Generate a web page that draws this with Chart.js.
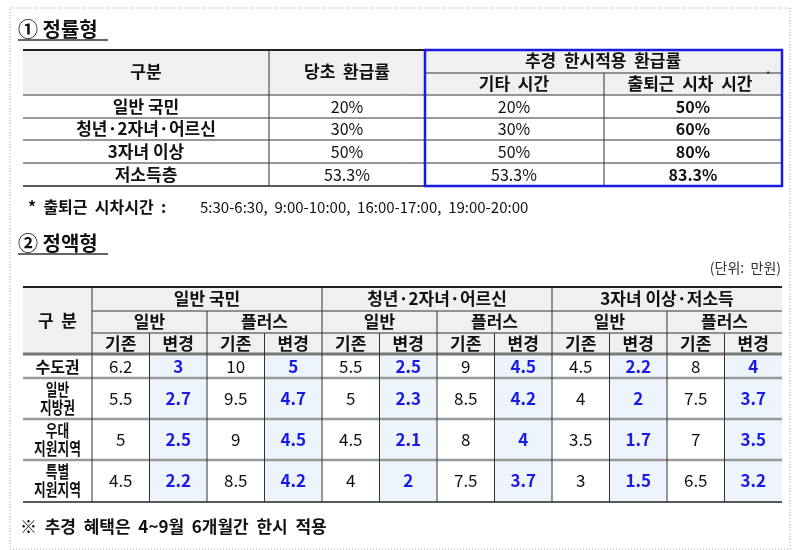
<!DOCTYPE html>
<html><head><meta charset="utf-8">
<script src="https://cdn.jsdelivr.net/npm/chart.js@4"></script>
<style>html,body{margin:0;padding:0;background:#fff}canvas{display:block}</style>
</head><body>
<canvas id="c" width="800" height="550"></canvas>
<script>
// table 1 : 정률형
const t1Rows = ['일반 국민', '청년·2자녀·어르신', '3자녀 이상', '저소득층'];
const t1Base = ['20%', '30%', '50%', '53.3%'];
const t1Other = ['20%', '30%', '50%', '53.3%'];
const t1Peak = ['50%', '60%', '80%', '83.3%'];

// table 2 : 정액형
const regions = [['수도권'], ['일반', '지방권'], ['우대', '지원지역'], ['특별', '지원지역']];
const groups = ['일반 국민', '청년·2자녀·어르신', '3자녀 이상·저소득'];
const subGroups = ['일반', '플러스'];
const colLabels = ['기존', '변경'];
const capital = [6.2, 3, 10, 5, 5.5, 2.5, 9, 4.5, 4.5, 2.2, 8, 4];
const localGeneral = [5.5, 2.7, 9.5, 4.7, 5, 2.3, 8.5, 4.2, 4, 2, 7.5, 3.7];
const localPreferred = [5, 2.5, 9, 4.5, 4.5, 2.1, 8, 4, 3.5, 1.7, 7, 3.5];
const localSpecial = [4.5, 2.2, 8.5, 4.2, 4, 2, 7.5, 3.7, 3, 1.5, 6.5, 3.2];
const t2Values = [capital, localGeneral, localPreferred, localSpecial];

const FONT = '"Noto Sans CJK KR", "Noto Sans", sans-serif';
const BLUE = '#1a1ae6';

const tablePlugin = {
  id: 'table',
  afterDraw(chart) {
    const ctx = chart.ctx;
    const xs = chart.scales.x, ys = chart.scales.y;
    const X = v => xs.getPixelForValue(v), Y = v => ys.getPixelForValue(v);
    const rect = (x0, y0, x1, y1, fill) => { ctx.fillStyle = fill; ctx.fillRect(X(x0), Y(y0), X(x1) - X(x0), Y(y1) - Y(y0)); };
    const line = (x0, y0, x1, y1, col, w) => {
      ctx.strokeStyle = col; ctx.lineWidth = w; ctx.beginPath();
      ctx.moveTo(X(x0), Y(y0)); ctx.lineTo(X(x1), Y(y1)); ctx.stroke();
    };
    const text = (s, x, y, size, opts = {}) => {
      ctx.font = (opts.bold ? 'bold ' : '') + size + 'px ' + FONT;
      ctx.fillStyle = opts.color || '#111';
      ctx.textAlign = opts.align || 'center';
      ctx.textBaseline = 'middle';
      ctx.fillText(s, X(x), Y(y));
    };
    ctx.save();
    // outer dotted frame
    ctx.setLineDash([1, 2]);
    ctx.strokeStyle = '#aaa'; ctx.lineWidth = 1;
    ctx.strokeRect(X(10), Y(8), X(790) - X(10), Y(549) - Y(8));
    ctx.setLineDash([]);

    // ---- table 1
    text('① 정률형', 18, 29, 20, { bold: true, align: 'left' });
    line(18, 40, 108, 40, '#333', 1.5);
    const c1 = [23, 269, 425, 604, 782];
    const r1 = [50, 95, 118, 140, 163, 186];
    rect(c1[0], 50, c1[4], 95, '#f0f0f0');
    for (let i = 1; i < r1.length - 1; i++) line(c1[0], r1[i], c1[4], r1[i], '#333', 1);
    line(c1[0], 50, c1[4], 50, '#222', 2);
    line(c1[0], 186, c1[4], 186, '#222', 1.5);
    line(c1[2], 73, c1[4], 73, '#333', 1);
    line(c1[1], 50, c1[1], 186, '#333', 1);
    line(c1[3], 73, c1[3], 186, '#333', 1);
    text('구분', 146, 72, 17, { bold: true });
    text('당초  환급률', 347, 72, 17, { bold: true });
    text('추경  한시적용  환급률', 603, 61, 17, { bold: true });
    text('기타  시간', 514, 84, 17, { bold: true });
    text('출퇴근  시차  시간', 690, 84, 17, { bold: true });
    text('*', 766, 75, 9, { align: 'left' });
    t1Rows.forEach((r, i) => {
      const cy = (r1[i + 1] + r1[i + 2]) / 2;
      text(r, 146, cy, 17, { bold: true });
      text(t1Base[i], 347, cy, 16);
      text(t1Other[i], 514, cy, 16);
      text(t1Peak[i], 693, cy, 16, { bold: true });
    });
    ctx.strokeStyle = BLUE; ctx.lineWidth = 2.5;
    ctx.strokeRect(X(425), Y(50), X(782) - X(425), Y(186) - Y(50));

    text('*  출퇴근  시차시간  :', 28, 207, 16, { bold: true, align: 'left' });
    text('5:30-6:30,  9:00-10:00,  16:00-17:00,  19:00-20:00', 200, 207, 15, { align: 'left' });

    // ---- table 2
    text('② 정액형', 18, 243, 20, { bold: true, align: 'left' });
    line(18, 254, 108, 254, '#333', 1.5);
    text('(단위:  만원)', 781, 268, 14, { align: 'right', color: '#333' });
    const left = 23, c0 = 92, right = 782, cw = (right - c0) / 12;
    const hr = [287, 311, 333, 355];
    const dr = [355, 378, 419, 460, 502];
    rect(left, hr[0], right, hr[3], '#f0f0f0');
    for (let r = 0; r < 4; r++) for (let j = 1; j < 12; j += 2)
      rect(c0 + j * cw, dr[r] + 1, c0 + (j + 1) * cw, dr[r + 1] - 1, '#eef4fc');
    line(left, hr[0], right, hr[0], '#222', 2);
    line(c0, hr[1], right, hr[1], '#333', 1);
    line(c0, hr[2], right, hr[2], '#333', 1);
    line(left, hr[3] - 1, right, hr[3] - 1, '#777', 3);
    for (let r = 1; r < 4; r++) line(left, dr[r], right, dr[r], '#999', 2.5);
    line(left, dr[4], right, dr[4], '#222', 1.5);
    line(c0, hr[0], c0, dr[4], '#333', 1);
    for (let j = 1; j < 12; j++) {
      const top = j % 4 === 0 ? hr[0] : j % 2 === 0 ? hr[1] : hr[2];
      line(c0 + j * cw, top, c0 + j * cw, dr[4], '#333', 1);
    }
    text('구  분', (left + c0) / 2, 321, 17, { bold: true });
    groups.forEach((g, gi) => text(g, c0 + (gi * 4 + 2) * cw, 299, 17, { bold: true }));
    for (let s = 0; s < 6; s++) text(subGroups[s % 2], c0 + (s * 2 + 1) * cw, 322, 17, { bold: true });
    for (let k = 0; k < 12; k++) text(colLabels[k % 2], c0 + (k + 0.5) * cw, 344, 17, { bold: true });
    regions.forEach((lab, r) => {
      const cy = (dr[r] + dr[r + 1]) / 2;
      if (lab.length === 1) text(lab[0], (left + c0) / 2, cy, 16, { bold: true });
      else {
        ctx.save();
        ctx.translate(X((left + c0) / 2), 0);
        ctx.scale(0.75, 1);
        ctx.font = 'bold 17px ' + FONT; ctx.fillStyle = '#111';
        ctx.textAlign = 'center'; ctx.textBaseline = 'middle';
        ctx.fillText(lab[0], 0, Y(cy - 9));
        ctx.fillText(lab[1], 0, Y(cy + 9));
        ctx.restore();
      }
      t2Values[r].forEach((v, k) => {
        const isNew = k % 2 === 1;
        text(String(v), c0 + (k + 0.5) * cw, cy, 17, isNew ? { bold: true, color: BLUE } : {});
      });
    });

    text('※  추경  혜택은  4~9월  6개월간  한시  적용', 20, 527, 17, { bold: true, align: 'left' });
    ctx.restore();
  }
};

new Chart(document.getElementById('c'), {
  type: 'scatter',
  data: { datasets: [{ data: [] }] },
  options: {
    responsive: false,
    animation: false,
    layout: { padding: 0 },
    plugins: { legend: { display: false }, tooltip: { enabled: false } },
    scales: {
      x: { type: 'linear', min: 0, max: 800, display: false },
      y: { type: 'linear', min: 0, max: 550, reverse: true, display: false }
    }
  },
  plugins: [tablePlugin]
});
</script>
</body></html>
